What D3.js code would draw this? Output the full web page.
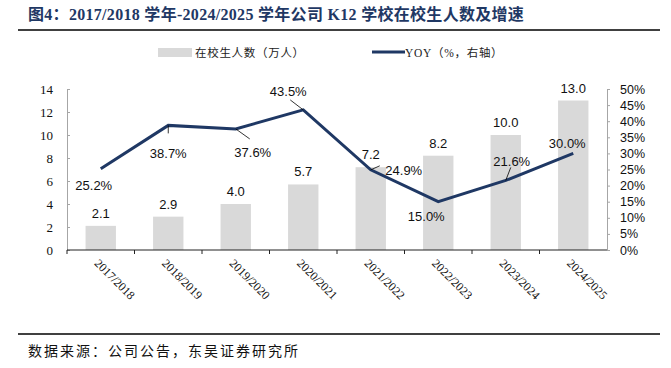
<!DOCTYPE html>
<html>
<head>
<meta charset="utf-8">
<script src="https://cdn.jsdelivr.net/npm/d3@7"></script>
<style>
  body { margin: 0; background: #fff; }
  svg { display: block; }
</style>
</head>
<body>
<div id="chart"></div>
<script>
// data
const years = ['2017/2018', '2018/2019', '2019/2020', '2020/2021', '2021/2022', '2022/2023', '2023/2024', '2024/2025'];
const students = [2.1, 2.9, 4.0, 5.7, 7.2, 8.2, 10.0, 13.0];   // 万人
const yoy = [25.2, 38.7, 37.6, 43.5, 24.9, 15.0, 21.6, 30.0];  // %
const leftTicks = [0, 2, 4, 6, 8, 10, 12, 14];
const rightTicks = [0, 5, 10, 15, 20, 25, 30, 35, 40, 45, 50];

// where each yoy label sits relative to its point [dx, dy] and leader line end
const yoyLabelPos = [
  { dx: -7, dy: 18, lead: null },
  { dx: 0, dy: 29, lead: [0, 8] },
  { dx: 17, dy: 25, lead: [14, 10] },
  { dx: -15, dy: -17, lead: [-13, -10] },
  { dx: 33, dy: 2, lead: [9, -4] },
  { dx: -12, dy: 16, lead: null },
  { dx: 6, dy: -18, lead: [5, -13] },
  { dx: -6, dy: -9, lead: null }
];

const W = 671, H = 368;
const margin = { top: 89, left: 67, right: 64, bottom: 118 };
const plotW = W - margin.left - margin.right;
const plotH = H - margin.top - margin.bottom;

const navy = '#1f3864';
const serif = '"Liberation Serif", "Noto Sans CJK SC", serif';
const sans = '"Liberation Sans", Arial, sans-serif';
const cjk = '"Noto Sans CJK SC", sans-serif';

let svg = d3.select('#chart')
  .append('svg')
  .attr('width', W)
  .attr('height', H);

// title + rules
svg.append('text')
  .attr('x', 28)
  .attr('y', 20)
  .attr('font-family', serif)
  .attr('font-weight', 'bold')
  .attr('font-size', 16)
  .attr('letter-spacing', 0.3)
  .attr('fill', navy)
  .text('图4：2017/2018 学年-2024/2025 学年公司 K12 学校在校生人数及增速');

svg.append('line')
  .attr('x1', 18).attr('x2', 660)
  .attr('y1', 30).attr('y2', 30)
  .attr('stroke', '#000').attr('stroke-width', 1.5);

svg.append('line')
  .attr('x1', 18).attr('x2', 660)
  .attr('y1', 334).attr('y2', 334)
  .attr('stroke', '#000').attr('stroke-width', 1.5);

svg.append('text')
  .attr('x', 28)
  .attr('y', 356)
  .attr('font-family', cjk)
  .attr('font-size', 14)
  .attr('letter-spacing', 2)
  .attr('fill', '#111')
  .text('数据来源：公司公告，东吴证券研究所');

// legend
let legend = svg.append('g').attr('font-family', serif).attr('font-size', 11.5).attr('letter-spacing', 0.7).attr('fill', '#222');
legend.append('rect')
  .attr('x', 158).attr('y', 48).attr('width', 34).attr('height', 9)
  .attr('fill', '#d9d9d9');
legend.append('text').attr('x', 195).attr('y', 57).text('在校生人数（万人）');
legend.append('line')
  .attr('x1', 372).attr('x2', 405).attr('y1', 52).attr('y2', 52)
  .attr('stroke', navy).attr('stroke-width', 3);
legend.append('text').attr('x', 405).attr('y', 57).text('YOY（%，右轴）');

let g = svg.append('g').attr('transform', `translate(${margin.left},${margin.top})`);

let x = d3.scaleBand().domain(years).range([0, plotW]).paddingInner(0.55).paddingOuter(0.275);
let yL = d3.scaleLinear().domain([0, 14]).range([plotH, 0]);
let yR = d3.scaleLinear().domain([0, 50]).range([plotH, 0]);

// bars
g.selectAll('rect.bar')
  .data(students)
  .join('rect')
  .attr('class', 'bar')
  .attr('x', (d, i) => x(years[i]))
  .attr('y', d => yL(d))
  .attr('width', x.bandwidth())
  .attr('height', d => plotH - yL(d))
  .attr('fill', '#d9d9d9');

g.selectAll('text.barlab')
  .data(students)
  .join('text')
  .attr('class', 'barlab')
  .attr('x', (d, i) => x(years[i]) + x.bandwidth() / 2)
  .attr('y', d => yL(d) - 8)
  .attr('text-anchor', 'middle')
  .attr('font-family', sans)
  .attr('font-size', 13)
  .attr('fill', '#111')
  .text(d => d.toFixed(1));

// left axis
let axL = g.append('g')
  .call(d3.axisLeft(yL).tickValues(leftTicks).tickSize(-3).tickPadding(14));
axL.select('.domain').attr('stroke', '#a6a6a6');
axL.selectAll('.tick line').attr('stroke', '#a6a6a6');
axL.selectAll('text').attr('font-family', serif).attr('font-size', 13).attr('fill', '#111');

// right axis
let axR = g.append('g')
  .attr('transform', `translate(${plotW},0)`)
  .call(d3.axisRight(yR).tickValues(rightTicks).tickSize(3).tickPadding(10).tickFormat(d => d + '%'));
axR.select('.domain').attr('stroke', '#a6a6a6');
axR.selectAll('.tick line').attr('stroke', '#a6a6a6');
axR.selectAll('text').attr('font-family', sans).attr('font-size', 12.5).attr('fill', '#111');

// x axis: ticks at band boundaries
let xb = g.append('g').attr('transform', `translate(0,${plotH})`);
xb.append('line').attr('x1', 0).attr('x2', plotW).attr('stroke', '#222');
xb.selectAll('line.tk')
  .data(d3.range(years.length))
  .join('line')
  .attr('class', 'tk')
  .attr('x1', i => x.step() * i).attr('x2', i => x.step() * i)
  .attr('y1', 0).attr('y2', 4)
  .attr('stroke', '#222');
xb.selectAll('text')
  .data(years)
  .join('text')
  .attr('transform', d => `translate(${x(d) + x.bandwidth() / 2 - 7},${14}) rotate(45)`)
  .attr('font-family', serif)
  .attr('font-size', 12)
  .attr('fill', '#111')
  .text(d => d);

// yoy line
let cx = i => x(years[i]) + x.bandwidth() / 2;
let line = d3.line().x((d, i) => cx(i)).y(d => yR(d));
g.append('path')
  .datum(yoy)
  .attr('d', line)
  .attr('fill', 'none')
  .attr('stroke', navy)
  .attr('stroke-width', 3);

// leader lines and yoy labels
yoy.forEach((v, i) => {
  let p = yoyLabelPos[i];
  if (p.lead) {
    g.append('line')
      .attr('x1', cx(i)).attr('y1', yR(v))
      .attr('x2', cx(i) + p.lead[0]).attr('y2', yR(v) + p.lead[1])
      .attr('stroke', '#000').attr('stroke-width', 0.8);
  }
  g.append('text')
    .attr('x', cx(i) + p.dx)
    .attr('y', yR(v) + p.dy)
    .attr('text-anchor', 'middle')
    .attr('dominant-baseline', 'middle')
    .attr('font-family', sans)
    .attr('font-size', 13)
    .attr('fill', '#111')
    .text(v.toFixed(1) + '%');
});
</script>
</body>
</html>
